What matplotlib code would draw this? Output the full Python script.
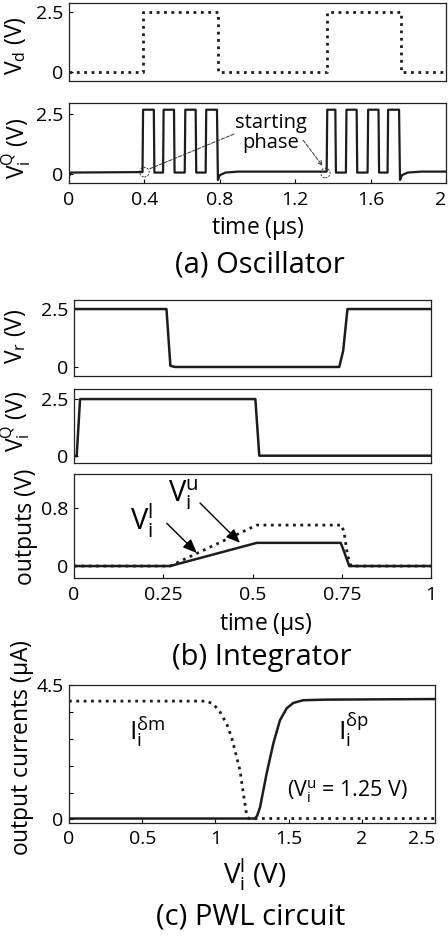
import matplotlib
matplotlib.use('Agg')
import matplotlib.pyplot as plt
from matplotlib.patches import Ellipse

plt.rcParams['font.family'] = ['Open Sans', 'DejaVu Sans']
plt.rcParams['mathtext.fontset'] = 'custom'
plt.rcParams['mathtext.rm'] = 'Open Sans'
plt.rcParams['mathtext.it'] = 'Open Sans:italic'
plt.rcParams['mathtext.default'] = 'regular'

INK = '#1c1c1c'
TICK = 14
LAB = 16.5

# (a) oscillator: input square wave and oscillator output (time in us, volts)
vd_t = [0, 0.39, 0.39, 0.79, 0.79, 1.37, 1.37, 1.76, 1.76, 2.0]
vd_v = [0, 0, 2.5, 2.5, 0, 0, 2.5, 2.5, 0, 0]

osc_t = [0.0, 0.01, 0.39, 0.393, 0.45, 0.453, 0.499, 0.502, 0.557, 0.56,
         0.614, 0.617, 0.672, 0.675, 0.725, 0.728, 0.785, 0.79, 0.80, 0.83,
         0.9, 1.367, 1.37, 1.413, 1.416, 1.469, 1.472, 1.526, 1.529, 1.584,
         1.587, 1.642, 1.645, 1.69, 1.693, 1.751, 1.756, 1.766, 1.796, 1.87, 2.0]
osc_v = [-0.1, 0.06, 0.08, 2.68, 2.68, 0.06, 0.06, 2.68, 2.68, 0.06,
         0.06, 2.68, 2.68, 0.06, 0.06, 2.68, 2.68, -0.25, -0.05, 0.06,
         0.1, 0.1, 2.68, 2.68, 0.06, 0.06, 2.68, 2.68, 0.06, 0.06,
         2.68, 2.68, 0.06, 0.06, 2.68, 2.68, -0.25, -0.05, 0.06, 0.1, 0.1]
start_pts = [(0.40, 0.08), (1.36, 0.04)]

# (b) integrator
vr_t = [0, 0.259, 0.27, 0.283, 0.743, 0.754, 0.766, 1.0]
vr_v = [2.5, 2.5, 0.05, 0.0, 0.0, 0.7, 2.5, 2.5]
viq_t = [0, 0.0075, 0.017, 0.508, 0.519, 1.0]
viq_v = [0.0, 0.0, 2.5, 2.5, 0.02, 0.02]
vl_t = [0, 0.269, 0.512, 0.747, 0.755, 0.771, 1.0]
vl_v = [0, 0, 0.32, 0.32, 0.22, 0.0, 0.0]
vu_t = [0, 0.269, 0.512, 0.75, 0.757, 0.766, 0.776, 1.0]
vu_v = [0, 0, 0.565, 0.565, 0.45, 0.15, 0.0, 0.0]

# (c) PWL circuit: output currents vs V_i^l
im_v = [0, 0.94, 0.986, 1.031, 1.077, 1.11, 1.145, 1.168, 1.19, 1.214, 1.23, 2.5]
im_i = [3.96, 3.96, 3.86, 3.6, 3.2, 2.76, 2.09, 1.64, 0.9, 0.13, 0.03, 0.03]
ip_v = [0, 1.27, 1.285, 1.305, 1.35, 1.396, 1.441, 1.487, 1.532, 1.6, 1.75, 2.5]
ip_i = [0.03, 0.03, 0.12, 0.41, 1.54, 2.55, 3.32, 3.72, 3.9, 3.99, 4.01, 4.03]

W, H = 448, 942
fig = plt.figure(figsize=(W / 100, H / 100), dpi=100)


def px_axes(l, t, r, b):
    ax = fig.add_axes([l / W, 1 - b / H, (r - l) / W, (b - t) / H])
    ax.tick_params(direction='in', length=3, width=0.8, labelsize=TICK, pad=4)
    for s in ax.spines.values():
        s.set_linewidth(0.9)
        s.set_color('#222222')
    return ax


def ftext(x, y, s, **kw):
    fig.text(x / W, 1 - y / H, s, ha='center', va='center', **kw)


# ---- (a) Oscillator ----
a1 = px_axes(69, 3, 446, 81)
a1.plot(vd_t, vd_v, ls=':', lw=2, color=INK)
a1.set_xlim(0, 2)
a1.set_ylim(-0.375, 2.875)
a1.set_yticks([0, 2.5], ['0', '2.5'])
a1.set_xticks([])

a2 = px_axes(69, 103, 446, 183)
a2.plot(osc_t, osc_v, lw=1.6, color=INK)
a2.set_xlim(0, 2)
a2.set_ylim(-0.375, 2.96)
a2.set_yticks([0, 2.5], ['0', '2.5'])
a2.set_xticks([0, 0.4, 0.8, 1.2, 1.6, 2], ['0', '0.4', '0.8', '1.2', '1.6', '2'])
a2.tick_params(axis='x', pad=6)
a2.get_xticklabels()[-1].set_ha('right')
for cx, cy in start_pts:
    a2.add_patch(Ellipse((cx, cy), 0.05, 0.4, fill=False, ls=(0, (2, 1.5)),
                         lw=0.7, color='#333333'))
a2.text(1.07, 1.72, 'starting\nphase', ha='center', va='center', fontsize=14.5,
        linespacing=1.0)
a2.annotate('', xy=(0.413, 0.17), xytext=(0.889, 1.71),
            arrowprops=dict(arrowstyle='-', ls='--', lw=0.7, color='#333333'))
a2.annotate('', xy=(1.354, 0.25), xytext=(1.233, 1.5),
            arrowprops=dict(arrowstyle='->,head_length=0.3,head_width=0.15',
                            ls='--', lw=0.7, color='#333333'))

ftext(16, 46, r'$V_d$ (V)', rotation=90, fontsize=LAB)
ftext(16, 148, r'$V_i^Q$ (V)', rotation=90, fontsize=LAB)
ftext(258, 229, r'time ($\mu$s)', fontsize=LAB)
ftext(260, 265, '(a) Oscillator', fontsize=21)

# ---- (b) Integrator ----
b1 = px_axes(74, 300, 431, 376)
b1.plot(vr_t, vr_v, lw=1.8, color=INK)
b1.set_xlim(0, 1)
b1.set_ylim(-0.39, 2.89)
b1.set_yticks([0, 2.5], ['0', '2.5'])
b1.set_xticks([])

b2 = px_axes(74, 389, 431, 463)
b2.plot(viq_t, viq_v, lw=1.8, color=INK)
b2.set_xlim(0, 1)
b2.set_ylim(-0.3, 2.94)
b2.set_yticks([0, 2.5], ['0', '2.5'])
b2.set_xticks([])

b3 = px_axes(74, 474, 431, 578)
b3.plot(vu_t, vu_v, ls=':', lw=2, color=INK)
b3.plot(vl_t, vl_v, lw=1.8, color=INK)
b3.set_xlim(0, 1)
b3.set_ylim(-0.165, 1.27)
b3.set_yticks([0, 0.8], ['0', '0.8'])
b3.set_xticks([0, 0.25, 0.5, 0.75, 1], ['0', '0.25', '0.5', '0.75', '1'])
b3.tick_params(axis='x', pad=6)
arrow_kw = dict(arrowstyle='-|>,head_length=0.6,head_width=0.25', lw=1,
                color='black', mutation_scale=14, shrinkA=0, shrinkB=0)
b3.text(0.262, 0.886, r'$V_i^u$', fontsize=21, ha='left', va='baseline')
b3.annotate('', xy=(0.465, 0.32), xytext=(0.353, 0.87), arrowprops=arrow_kw)
b3.text(0.158, 0.497, r'$V_i^l$', fontsize=21, ha='left', va='baseline')
b3.annotate('', xy=(0.344, 0.18), xytext=(0.26, 0.59), arrowprops=arrow_kw)

ftext(15, 336, r'$V_r$ (V)', rotation=90, fontsize=LAB)
ftext(15, 421, r'$V_i^Q$ (V)', rotation=90, fontsize=LAB)
ftext(26, 527, 'outputs (V)', rotation=90, fontsize=LAB)
ftext(266, 624, r'time ($\mu$s)', fontsize=LAB)
ftext(262, 657, '(b) Integrator', fontsize=21)

# ---- (c) PWL circuit ----
c1 = px_axes(69, 685, 435, 823)
c1.plot(im_v, im_i, ls=':', lw=2, color=INK)
c1.plot(ip_v, ip_i, lw=1.8, color=INK)
c1.set_xlim(0, 2.5)
c1.set_ylim(-0.12, 4.5)
c1.set_yticks([0, 0.9, 1.8, 2.7, 3.6, 4.5], ['0', '', '', '', '', '4.5'])
c1.set_xticks([0, 0.5, 1, 1.5, 2, 2.5], ['0', '0.5', '1', '1.5', '2', '2.5'])
c1.tick_params(axis='x', pad=5)
c1.get_xticklabels()[-1].set_ha('right')
c1.text(0.41, 2.65, r'$I_i^{δm}$', fontsize=19, ha='left', va='baseline')
c1.text(1.835, 2.65, r'$I_i^{δp}$', fontsize=19, ha='left', va='baseline')
c1.text(1.49, 0.75, r'($V_i^u$ = 1.25 V)', fontsize=15.5, ha='left', va='baseline')

ftext(23, 748, r'output currents ($\mu$A)', rotation=90, fontsize=LAB)
ftext(255, 875, r'$V_i^l$ (V)', fontsize=20)
ftext(251, 917, '(c) PWL circuit', fontsize=21)

fig.savefig('out.png', dpi=100)
